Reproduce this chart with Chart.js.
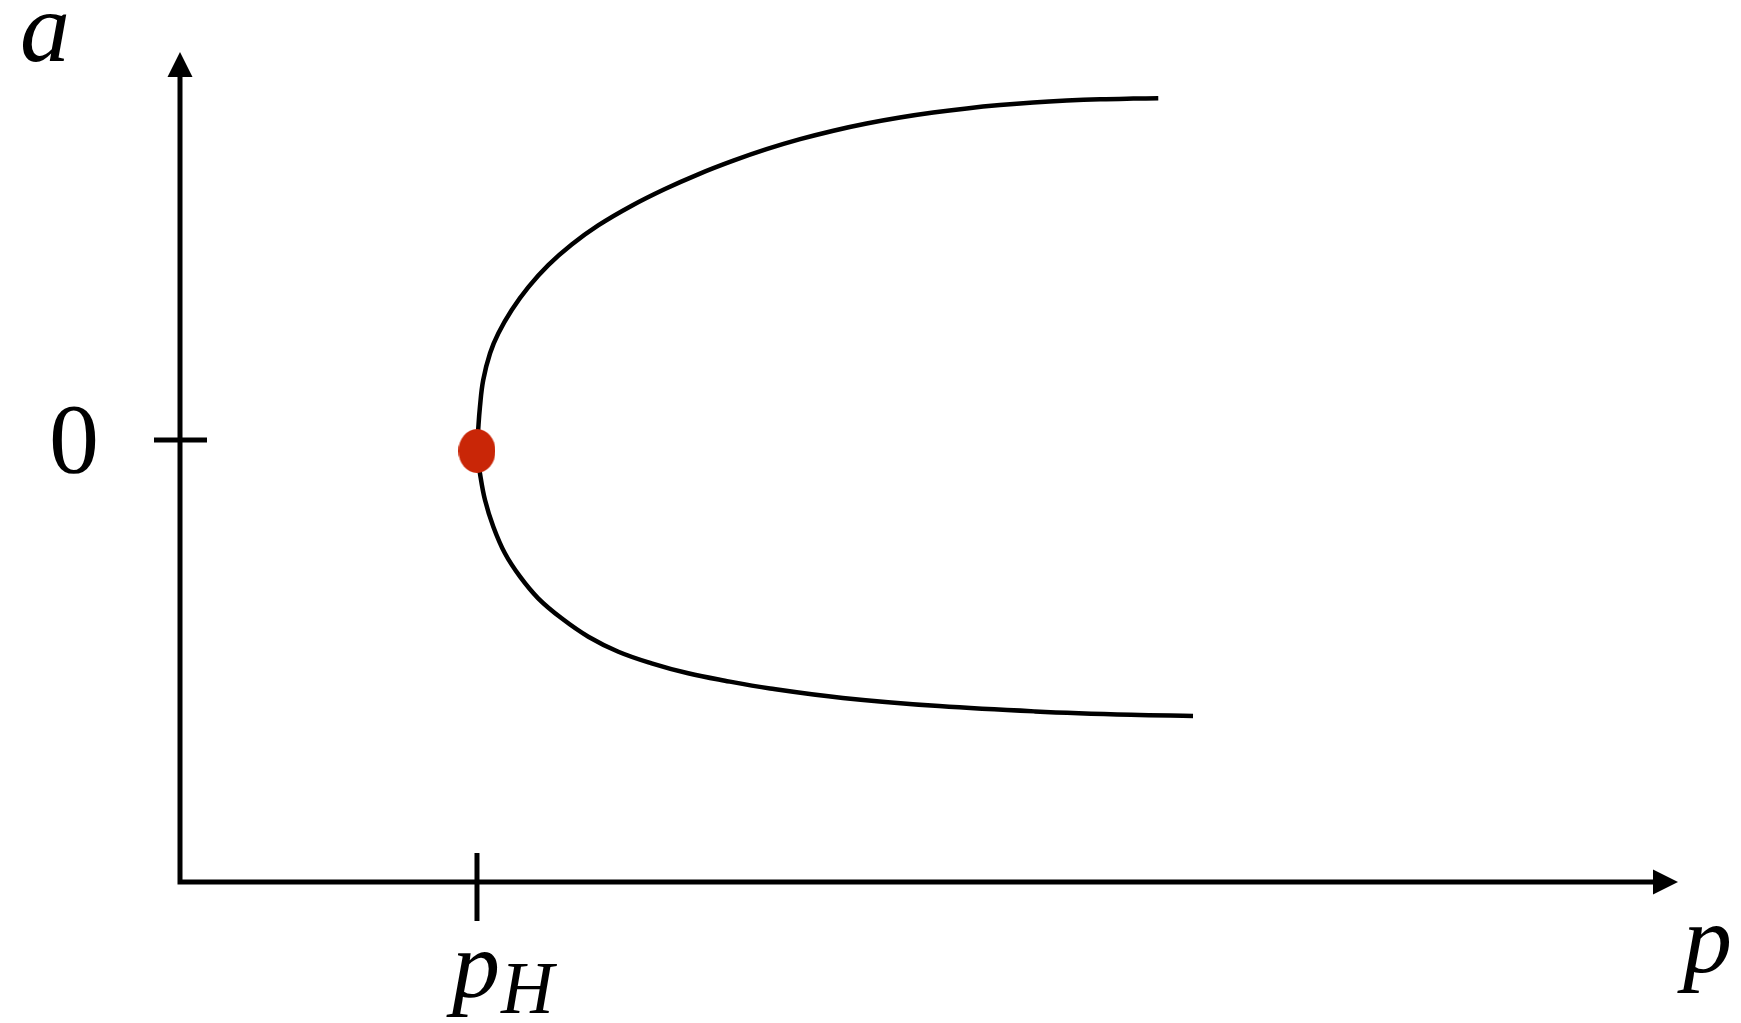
<!DOCTYPE html>
<html>
<head>
<meta charset="utf-8">
<style>
  html, body { margin: 0; padding: 0; background: #ffffff; }
  canvas { display: block; }
</style>
<script src="https://cdn.jsdelivr.net/npm/chart.js@4.4.1/dist/chart.umd.min.js"></script>
</head>
<body>
<canvas id="bif" width="1741" height="1023"></canvas>
<script>
// Hopf bifurcation diagram: amplitude a of the limit cycle versus parameter p.

// axis extents (data units)
const pRange = [0, 5.044];
const aRange = [-4.42, 3.88];

// bifurcation point
const hopfP = 1.0;
const hopfA = -0.11;

// upper branch of the limit-cycle amplitude, from the bifurcation point outward
const upperBranchP = [1.000, 1.004, 1.010, 1.021, 1.044, 1.072, 1.117, 1.173, 1.240, 1.319, 1.408, 1.521, 1.633, 1.745, 1.863, 1.975, 2.088, 2.200, 2.312, 2.424, 2.536, 2.649, 2.761, 2.873, 2.986, 3.098, 3.210, 3.294];
const upperBranchA = [-0.11, 0.100, 0.333, 0.600, 0.867, 1.067, 1.300, 1.529, 1.749, 1.955, 2.146, 2.343, 2.510, 2.657, 2.793, 2.908, 3.008, 3.093, 3.165, 3.225, 3.275, 3.316, 3.349, 3.375, 3.394, 3.407, 3.414, 3.417];

// lower branch, from the bifurcation point outward
const lowerBranchP = [1.000, 1.010, 1.027, 1.055, 1.094, 1.145, 1.206, 1.285, 1.375, 1.476, 1.588, 1.711, 1.835, 1.987, 2.232, 2.556, 2.879, 3.202, 3.411];
const lowerBranchA = [-0.11, -0.333, -0.600, -0.867, -1.133, -1.367, -1.583, -1.783, -1.967, -2.117, -2.233, -2.333, -2.407, -2.484, -2.579, -2.661, -2.714, -2.748, -2.759];

// axis marks
const aTickValue = 0;
const aTickLabel = '0';
const pTickValue = hopfP;
const pTickLabel = ['p', 'H'];
const aAxisTitle = 'a';
const pAxisTitle = 'p';

// one continuous curve: upper branch reversed, then lower branch
const curvePoints = [];
for (let i = upperBranchP.length - 1; i >= 0; i--) curvePoints.push({ x: upperBranchP[i], y: upperBranchA[i] });
for (let i = 1; i < lowerBranchP.length; i++) curvePoints.push({ x: lowerBranchP[i], y: lowerBranchA[i] });

// elliptical marker for the bifurcation point
const dotImg = document.createElement('canvas');
dotImg.width = 37; dotImg.height = 44;
(function () {
  const c = dotImg.getContext('2d');
  c.fillStyle = '#c92607';
  c.beginPath();
  c.ellipse(18.5, 22, 18.5, 22, 0, 0, Math.PI * 2);
  c.fill();
})();

const serif = '"Liberation Serif", "DejaVu Serif", serif';

// axes with arrowheads, ticks and labels
const arrowAxes = {
  id: 'arrowAxes',
  beforeDatasetsDraw(chart) {
    const ctx = chart.ctx;
    const xs = chart.scales.x, ys = chart.scales.y;
    const x0 = xs.getPixelForValue(pRange[0]);
    const y0 = ys.getPixelForValue(aRange[0]);
    const xEnd = xs.getPixelForValue(pRange[1]);
    const yEnd = ys.getPixelForValue(aRange[1]);
    const head = 25, half = 12.5;

    ctx.save();
    ctx.strokeStyle = '#000';
    ctx.fillStyle = '#000';
    ctx.lineWidth = 5;
    ctx.lineCap = 'butt';

    // axis lines
    ctx.beginPath();
    ctx.moveTo(x0, yEnd + head);
    ctx.lineTo(x0, y0);
    ctx.lineTo(xEnd - head, y0);
    ctx.stroke();

    // arrowheads
    ctx.beginPath();
    ctx.moveTo(x0, yEnd);
    ctx.lineTo(x0 - half, yEnd + head);
    ctx.lineTo(x0 + half, yEnd + head);
    ctx.closePath();
    ctx.fill();
    ctx.beginPath();
    ctx.moveTo(xEnd, y0);
    ctx.lineTo(xEnd - head, y0 - half);
    ctx.lineTo(xEnd - head, y0 + half);
    ctx.closePath();
    ctx.fill();

    // ticks
    const ty = ys.getPixelForValue(aTickValue);
    ctx.beginPath();
    ctx.moveTo(x0 - 26, ty);
    ctx.lineTo(x0 + 27, ty);
    ctx.stroke();
    const tx = xs.getPixelForValue(pTickValue);
    ctx.beginPath();
    ctx.moveTo(tx, y0 - 29);
    ctx.lineTo(tx, y0 + 39);
    ctx.stroke();

    // labels
    ctx.textBaseline = 'alphabetic';
    ctx.textAlign = 'center';
    ctx.font = '100px ' + serif;
    ctx.fillText(aTickLabel, x0 - 106, ty + 32);

    ctx.textAlign = 'left';
    ctx.font = 'italic 96px ' + serif;
    ctx.fillText(pTickLabel[0], tx - 25, y0 + 115);
    ctx.font = 'italic 73px ' + serif;
    ctx.fillText(pTickLabel[1], tx + 24, y0 + 131);

    ctx.font = 'italic 100px ' + serif;
    ctx.fillText(aAxisTitle, x0 - 160, yEnd + 9);
    ctx.font = 'italic 98px ' + serif;
    ctx.fillText(pAxisTitle, xEnd + 5, y0 + 90);
    ctx.restore();
  }
};

new Chart(document.getElementById('bif'), {
  type: 'scatter',
  data: {
    datasets: [
      {
        data: [{ x: hopfP, y: hopfA }],
        pointStyle: dotImg,
        pointRadius: 20,
        order: 0,
        clip: false
      },
      {
        data: curvePoints,
        showLine: true,
        borderColor: '#000000',
        borderWidth: 4.5,
        pointRadius: 0,
        tension: 0.4,
        fill: false,
        order: 1,
        clip: false
      }
    ]
  },
  options: {
    responsive: false,
    animation: false,
    events: [],
    layout: { padding: { left: 180, right: 63, top: 52, bottom: 141 } },
    plugins: { legend: { display: false }, tooltip: { enabled: false }, title: { display: false } },
    scales: {
      x: { type: 'linear', display: false, min: pRange[0], max: pRange[1] },
      y: { type: 'linear', display: false, min: aRange[0], max: aRange[1] }
    }
  },
  plugins: [arrowAxes]
});
</script>
</body>
</html>
